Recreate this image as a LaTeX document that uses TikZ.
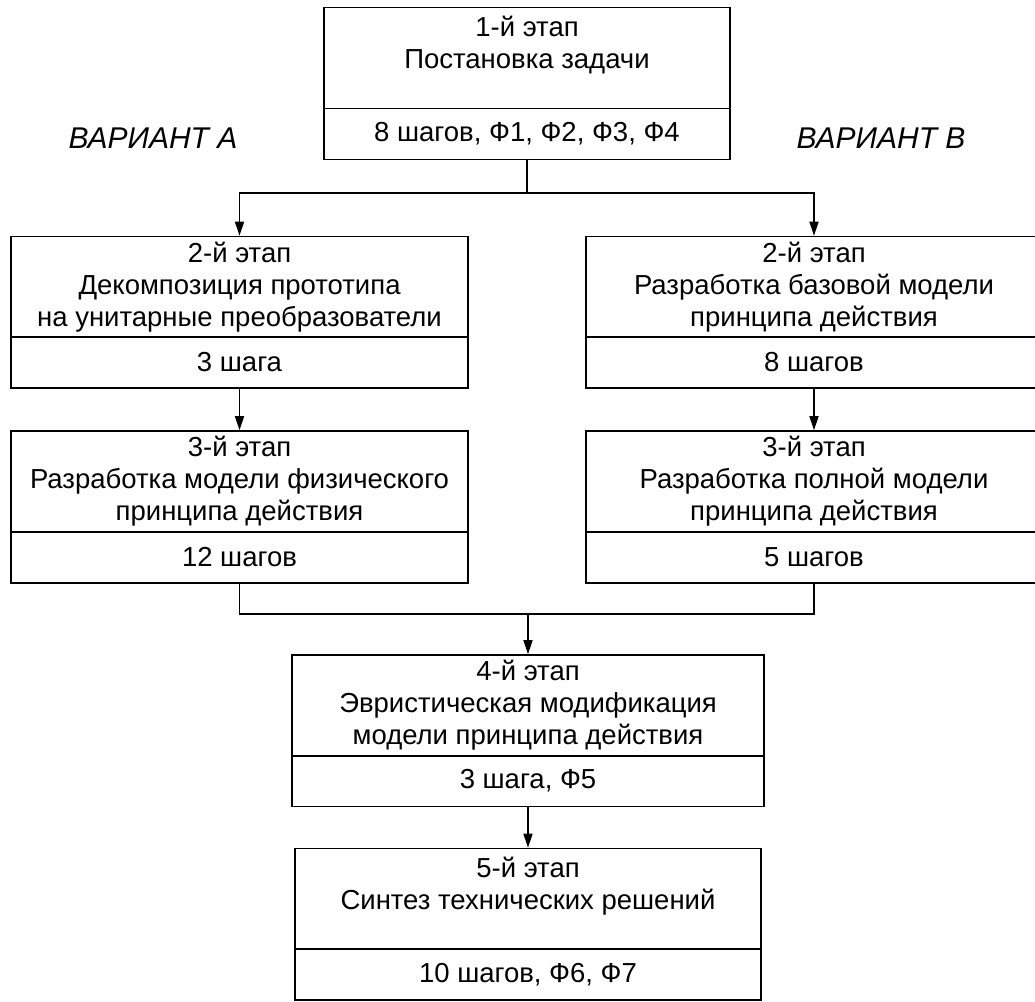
\documentclass[tikz,border=0pt]{standalone}
\usepackage{fontspec}
\setmainfont{Liberation Sans}
\usetikzlibrary{arrows.meta}
\begin{document}
\begin{tikzpicture}[x=1pt,y=-1pt,
  box/.style={draw, line width=1.6pt, rectangle, align=center, inner sep=0pt,
    font=\fontsize{27.5}{32}\selectfont},
  upper/.style={box, minimum height=101pt},
  lower/.style={box, minimum height=51pt},
  conn/.style={line width=1.6pt},
  arr/.style={line width=1.6pt, -{Triangle[length=14pt,width=9pt]}},
  variant/.style={font=\fontsize{30}{36}\selectfont\itshape}]
\useasboundingbox (0,0) rectangle (1035,1001);
\clip (0,0) rectangle (1035,1001);
% stage 1
\node[upper, minimum width=406pt] (b1) at (527,58) {1-й этап\\Постановка задачи\\\mbox{}};
\node[lower, minimum width=406pt] (b1s) at (527,134) {8 шагов, Ф1, Ф2, Ф3, Ф4};
% variant labels
\node[variant] (va) at (153,138) {ВАРИАНТ А};
\node[variant] (vb) at (881,138) {ВАРИАНТ В};
% stage 2
\node[upper, minimum width=457pt] (b2a) at (239.5,287) {2-й этап\\Декомпозиция прототипа\\на унитарные преобразователи};
\node[lower, minimum width=457pt] (b2as) at (239.5,362.5) {3 шага};
\node[upper, minimum width=456pt] (b2b) at (814,287) {2-й этап\\Разработка базовой модели\\принципа действия};
\node[lower, minimum width=456pt] (b2bs) at (814,362.5) {8 шагов};
% stage 3
\node[upper, minimum width=457pt] (b3a) at (239.5,481.5) {3-й этап\\Разработка модели физического\\принципа действия};
\node[lower, minimum width=457pt] (b3as) at (239.5,557.5) {12 шагов};
\node[upper, minimum width=456pt] (b3b) at (814,481.5) {3-й этап\\Разработка полной модели\\принципа действия};
\node[lower, minimum width=456pt] (b3bs) at (814,557.5) {5 шагов};
% stage 4
\node[upper, minimum width=472pt] (b4) at (528,705.5) {4-й этап\\Эвристическая модификация\\модели принципа действия};
\node[lower, minimum width=472pt] (b4s) at (528,781) {3 шага, Ф5};
% stage 5
\node[upper, minimum width=466pt] (b5) at (528,899) {5-й этап\\Синтез технических решений\\\mbox{}};
\node[lower, minimum width=466pt] (b5s) at (528,974.5) {10 шагов, Ф6, Ф7};
% connectors
\coordinate (j1) at (527,193);
\coordinate (j2) at (528,614);
\draw[conn] (b1s.south) -- (j1);
\draw[arr] (j1) -| (b2a.north);
\draw[arr] (j1) -| (b2b.north);
\draw[arr] (b2as.south) -- (b3a.north);
\draw[arr] (b2bs.south) -- (b3b.north);
\draw[conn] (b3as.south) |- (j2);
\draw[conn] (b3bs.south) |- (j2);
\draw[arr] (j2) -- (b4.north);
\draw[arr] (b4s.south) -- (b5.north);
\end{tikzpicture}
\end{document}
